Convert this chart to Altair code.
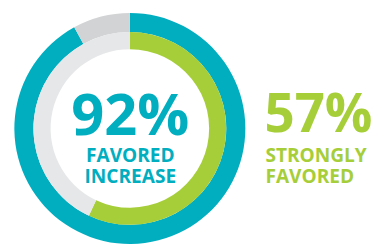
import altair as alt
import pandas as pd

# Data
outer_labels = ["Favored increase", "Other"]
outer_values = [92, 8]
inner_labels = ["Strongly favored", "Other"]
inner_values = [57, 43]

big_texts = ["92%", "57%"]
sub_texts_left = ["FAVORED", "INCREASE"]
sub_texts_right = ["STRONGLY", "FAVORED"]

TEAL = "#00AEC0"
GREEN = "#A6CE39"
GRAY_OUT = "#D1D3D4"
GRAY_IN = "#E6E7E8"

outer_df = pd.DataFrame({"label": outer_labels, "value": outer_values, "order": [0, 1],
                         "color": [TEAL, GRAY_OUT]})
inner_df = pd.DataFrame({"label": inner_labels, "value": inner_values, "order": [0, 1],
                         "color": [GREEN, GRAY_IN]})

CX, CY = 124.5, 120.5

outer = alt.Chart(outer_df).mark_arc(radius=118, radius2=98.5, stroke=None).encode(
    theta=alt.Theta("value:Q", stack=True),
    order=alt.Order("order:Q"),
    color=alt.Color("color:N", scale=None),
    x=alt.value(CX), y=alt.value(CY),
)
inner = alt.Chart(inner_df).mark_arc(radius=98.5, radius2=81, stroke=None).encode(
    theta=alt.Theta("value:Q", stack=True),
    order=alt.Order("order:Q"),
    color=alt.Color("color:N", scale=None),
    x=alt.value(CX), y=alt.value(CY),
)

FONT = "Open Sans"

big_left = alt.Chart(pd.DataFrame({"t": [big_texts[0]]})).mark_text(
    font=FONT, fontWeight="bold", fontSize=59, color=TEAL, align="center", baseline="alphabetic"
).encode(text="t:N", x=alt.value(125), y=alt.value(127))

big_right = alt.Chart(pd.DataFrame({"t": [big_texts[1]]})).mark_text(
    font=FONT, fontWeight="bold", fontSize=54, color=GREEN, align="left", baseline="alphabetic"
).encode(text="t:N", x=alt.value(262), y=alt.value(124))

sub_left = alt.Chart(pd.DataFrame({"t": [sub_texts_left]})).mark_text(
    font=FONT, fontWeight="bold", fontSize=19.5, lineHeight=21, color=TEAL,
    align="center", baseline="alphabetic"
).encode(text="t", x=alt.value(125), y=alt.value(155))

sub_right = alt.Chart(pd.DataFrame({"t": [sub_texts_right]})).mark_text(
    font=FONT, fontWeight="bold", fontSize=19.5, lineHeight=21, color=GREEN,
    align="left", baseline="alphabetic"
).encode(text="t", x=alt.value(263), y=alt.value(155))

chart = alt.layer(outer, inner, big_left, big_right, sub_left, sub_right).resolve_scale(
    theta="independent"
).properties(
    width=377, height=237, padding=0, autosize="none"
).configure_view(stroke=None)

chart.save("out.html", embed_options={"renderer": "svg", "actions": False})
